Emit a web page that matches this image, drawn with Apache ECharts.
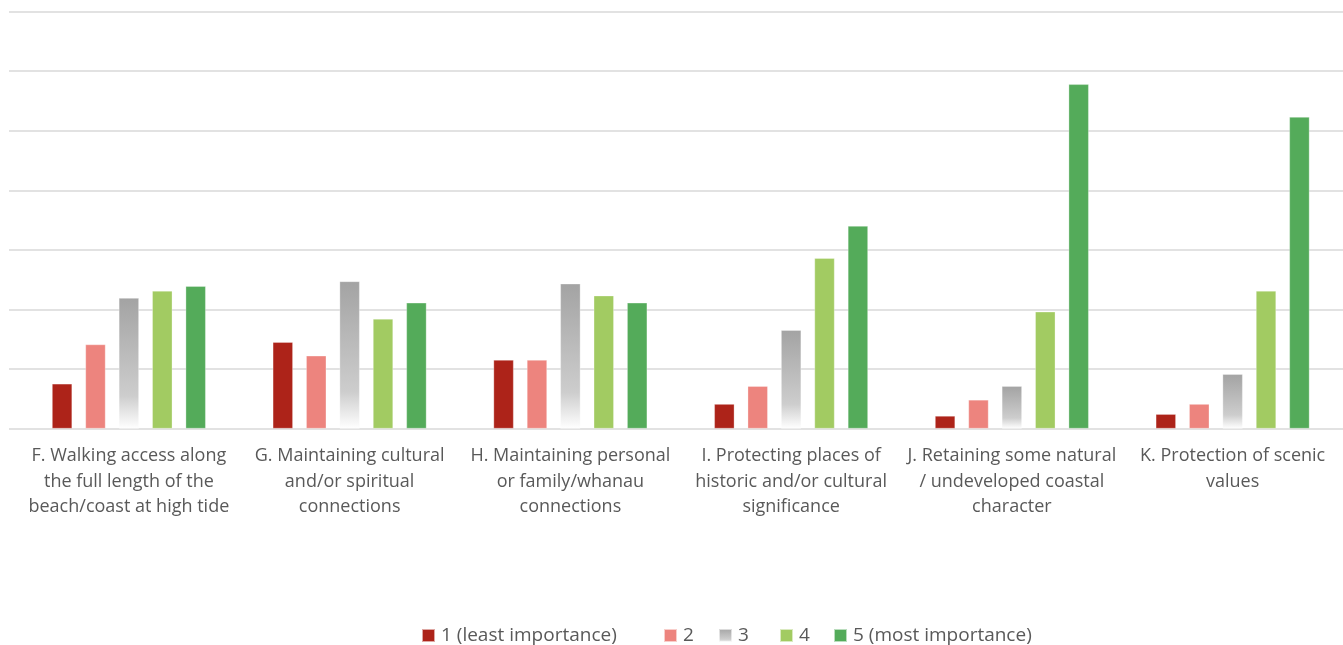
<!DOCTYPE html>
<html>
<head>
<meta charset="utf-8">
<script src="https://cdn.jsdelivr.net/npm/echarts@6/dist/echarts.min.js"></script>
<style>html,body{margin:0;padding:0;background:#fff;}#c{width:1343px;height:645px;}</style>
</head>
<body>
<div id="c"></div>
<script>
const categories = [
  "F. Walking access along\nthe full length of the\nbeach/coast at high tide",
  "G. Maintaining cultural\nand/or spiritual\nconnections",
  "H. Maintaining personal\nor family/whanau\nconnections",
  "I. Protecting places of\nhistoric and/or cultural\nsignificance",
  "J. Retaining some natural\n/ undeveloped coastal\ncharacter",
  "K. Protection of scenic\nvalues"
];
const seriesNames = ["1 (least importance)", "2", "3", "4", "5 (most importance)"];
const s1 = [7.5, 14.5, 11.5, 4.1, 2.1, 2.4];
const s2 = [14.1, 12.2, 11.5, 7.1, 4.8, 4.1];
const s3 = [21.9, 24.7, 24.3, 16.5, 7.1, 9.1];
const s4 = [23.1, 18.4, 22.3, 28.6, 19.6, 23.1];
const s5 = [23.9, 21.1, 21.1, 34.0, 57.8, 52.3];

const grayGrad = new echarts.graphic.LinearGradient(0, 0, 0, 1, [
  {offset: 0, color: '#a3a3a3'},
  {offset: 0.75, color: '#cdcdcd'},
  {offset: 1, color: '#ffffff'}
]);
const colors = ['#ad2319', '#ed847e', grayGrad, '#a2cb62', '#54ab5a'];
const data = [s1, s2, s3, s4, s5];
const legendLeft = [421, 663, 718, 779, 833];

const chart = echarts.init(document.getElementById('c'), null, {renderer: 'canvas'});
chart.setOption({
  animation: false,
  backgroundColor: '#ffffff',
  textStyle: {fontFamily: 'Open Sans'},
  grid: [
    {left: 9, right: 0, top: 11.7, bottom: 216.5},
    {left: 18.5, right: -8, top: 11.7, bottom: 216.5}
  ],
  legend: seriesNames.map((n, i) => ({
    data: [n],
    left: legendLeft[i],
    top: 626,
    padding: 0,
    itemWidth: 13,
    itemHeight: 13,
    icon: 'rect',
    textStyle: {fontSize: 19, color: '#595959', fontFamily: 'Open Sans', padding: [0, 0, 0, 1]}
  })),
  xAxis: [
    {gridIndex: 0, type: 'category', data: categories, show: false},
    {gridIndex: 1, type: 'category', data: categories,
     axisLine: {show: false}, axisTick: {show: false},
     axisLabel: {interval: 0, color: '#595959', fontSize: 18, lineHeight: 25.5, margin: 15, fontFamily: 'Open Sans'}}
  ],
  yAxis: [
    {gridIndex: 0, type: 'value', min: 0, max: 70, interval: 10,
     axisLabel: {show: false}, axisLine: {show: false}, axisTick: {show: false},
     splitLine: {lineStyle: {color: '#d9d9d9', width: 1.5}}},
    {gridIndex: 1, type: 'value', min: 0, max: 70, interval: 10, show: false, splitLine: {show: false}}
  ],
  series: data.map((d, i) => ({
    name: seriesNames[i],
    type: 'bar',
    xAxisIndex: 1,
    yAxisIndex: 1,
    data: d,
    barWidth: 20,
    barGap: '67%',
    itemStyle: {color: colors[i], borderColor: 'rgba(255,255,255,0.6)', borderWidth: 0.5}
  }))
});
</script>
</body>
</html>
